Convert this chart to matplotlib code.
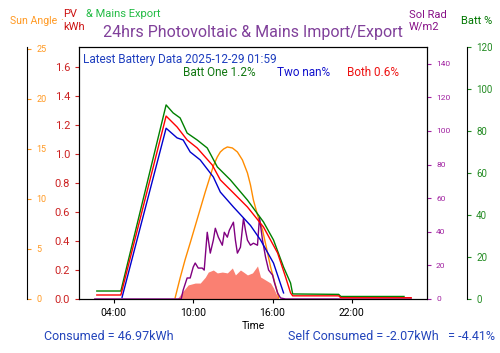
import datetime as dt
import numpy as np
import matplotlib
matplotlib.use("Agg")
import matplotlib.pyplot as plt
import matplotlib.dates as mdates

plt.rcParams['font.family'] = ['Roboto', 'DejaVu Sans']

# hours from midnight 2025-12-28
batt1_h = [2.71, 4.53, 7.95, 8.48, 9.01, 9.54, 10.30, 11.06, 11.82, 12.81, 14.10,
           15.31, 16.07, 16.83, 17.36, 17.52, 21.0, 21.16, 25.94]
batt1 = [3.8, 3.8, 92.4, 88.6, 86.2, 79.0, 75.7, 71.9, 62.9, 56.7, 47.1,
         36.7, 28.1, 15.2, 7.6, 2.4, 2.2, 1.2, 1.2]

both_h = [2.71, 4.53, 7.95, 8.78, 9.54, 10.30, 11.44, 12.05, 13.04, 14.10,
          15.31, 16.38, 16.98, 17.36, 17.52, 21.0, 21.16, 26.48]
both = [1.9, 1.9, 87.1, 81.9, 75.7, 71.9, 63.8, 56.7, 50.5, 43.8,
        34.3, 21.9, 10.5, 2.9, 1.5, 1.5, 0.6, 0.6]

batt2_h = [4.62, 7.95, 8.78, 9.24, 9.77, 10.53, 11.52, 12.05, 12.58, 13.04, 14.33,
           15.09, 16.07, 16.83]
batt2 = [0.8, 81.3, 76.7, 75.7, 70.0, 66.2, 58.1, 50.9, 47.1, 43.8, 35.0,
         28.1, 17.1, 2.9]

sun_h = [8.63, 8.80, 9.01, 9.38, 9.77, 10.15, 10.53, 10.91, 11.29, 11.52, 11.82,
         12.05, 12.30, 12.58, 12.96, 13.34, 13.72, 14.10, 14.33, 14.55, 14.86,
         15.24, 15.54, 15.85, 16.15, 16.38, 16.45]
sun = [0.1, 1.0, 2.1, 3.9, 5.6, 7.3, 9.0, 10.7, 12.3, 13.3, 14.2,
       14.7, 15.0, 15.2, 15.1, 14.7, 13.9, 12.6, 11.4, 9.9, 8.4,
       6.9, 5.1, 3.2, 1.7, 0.6, 0.1]

rad_h = [2.56, 9.09, 9.24, 9.54, 9.77, 10.0, 10.15, 10.38, 10.68, 10.83, 11.06,
         11.29, 11.52, 11.67, 11.90, 12.2, 12.35, 12.58, 12.73, 13.04, 13.19,
         13.34, 13.57, 13.80, 13.95, 14.10, 14.33, 14.55, 14.86, 15.01, 15.24,
         15.47, 15.70, 16.0, 16.15, 16.38, 16.6, 16.98, 26.48]
rad = [0, 0, 5.3, 12.5, 12.5, 19.0, 21.4, 18.4, 18.4, 17.2, 39.7,
       27.3, 35.0, 42.1, 36.8, 32.0, 39.7, 36.8, 40.9, 45.7, 35.0,
       27.3, 30.8, 48.0, 40.9, 35.0, 32.0, 33.2, 32.0, 48.6, 35.0,
       24.9, 17.2, 14.2, 9.5, 3.6, 0.6, 0, 0]

pv_h = [8.78, 9.24, 9.62, 10.15, 10.53, 10.91, 11.14, 11.52, 11.82, 12.2, 12.58,
        12.96, 13.19, 13.57, 13.80, 14.10, 14.48, 14.86, 15.09, 15.47, 15.85,
        16.07, 16.45]
pv = [0, 0.055, 0.097, 0.11, 0.11, 0.15, 0.186, 0.2, 0.18, 0.186, 0.18,
      0.214, 0.166, 0.2, 0.186, 0.166, 0.18, 0.228, 0.152, 0.131, 0.11,
      0.076, 0]

day0 = dt.datetime(2025, 12, 28)


def to_time(hours):
    return [day0 + dt.timedelta(hours=h) for h in hours]


fig = plt.figure(figsize=(5, 3.53), dpi=100)
ax = fig.add_axes([0.158, 0.153, 0.696, 0.714])

ax.fill_between(to_time(pv_h), pv, color='salmon', lw=0)
ax.plot(to_time(rad_h), [0] * len(rad_h), lw=0)
ax.set_ylim(0, 1.74)
ax.tick_params(axis='y', colors='#cc2222', labelsize=8, length=3)
ax.tick_params(axis='x', labelsize=7.5, length=3)
ax.xaxis.set_major_locator(mdates.HourLocator(byhour=[4, 10, 16, 22]))
ax.xaxis.set_major_formatter(mdates.DateFormatter('%H:%M'))
ax.set_xlabel('Time', fontsize=7.5, labelpad=2)

ax_sun = ax.twinx()
ax_sun.spines['right'].set_position(('axes', -0.149))
for s in ['top', 'left', 'bottom']:
    ax_sun.spines[s].set_visible(False)
ax_sun.plot(to_time(sun_h), sun, color='darkorange', lw=1)
ax_sun.set_ylim(0, 25.2)
ax_sun.tick_params(axis='y', colors='#ff9922', labelsize=6.5, length=3)

ax_rad = ax.twinx()
ax_rad.plot(to_time(rad_h), rad, color='purple', lw=1)
ax_rad.set_ylim(0, 150)
ax_rad.set_yticks(range(0, 141, 20))
ax_rad.tick_params(axis='y', colors='#a020a0', labelsize=6, length=3)

ax_batt = ax.twinx()
ax_batt.spines['right'].set_position(('axes', 1.115))
for s in ['top', 'left', 'bottom']:
    ax_batt.spines[s].set_visible(False)
ax_batt.plot(to_time(batt1_h), batt1, color='green', lw=1)
ax_batt.plot(to_time(both_h), both, color='red', lw=1)
ax_batt.plot(to_time(batt2_h), batt2, color='mediumblue', lw=1)
ax_batt.set_ylim(0, 120)
ax_batt.tick_params(axis='y', colors='#228b22', labelsize=7, length=3)

for a in [ax, ax_sun, ax_rad, ax_batt]:
    a.spines['right'].set_color('black')

# header texts
fig.text(253 / 500, 1 - 33 / 353, '24hrs Photovoltaic & Mains Import/Export',
         ha='center', va='center', color='#80409a', fontsize=11.5)
fig.text(10 / 500, 1 - 21 / 353, 'Sun Angle', ha='left', va='center',
         color='#ff9922', fontsize=7.6)
fig.text(60.5 / 500, 1 - 17 / 353, '.', ha='left', va='center',
         color='#ff9922', fontsize=8)
fig.text(63 / 500, 1 - 20.5 / 353, 'PV\nkWh', ha='left', va='center',
         color='#cc1111', fontsize=8, linespacing=1.35)
fig.text(86 / 500, 1 - 14 / 353, '& Mains Export', ha='left', va='center',
         color='#22bb44', fontsize=8)
fig.text(409 / 500, 1 - 21 / 353, 'Sol Rad\nW/m2', ha='left', va='center',
         color='#881188', fontsize=8, linespacing=1.25)
fig.text(461 / 500, 1 - 21 / 353, 'Batt %', ha='left', va='center',
         color='#007700', fontsize=8)

# battery info inside plot
fig.text(83 / 500, 1 - 59 / 353, 'Latest Battery Data 2025-12-29 01:59',
         ha='left', va='center', color='#1f3fbf', fontsize=8.5)
fig.text(183 / 500, 1 - 72 / 353, 'Batt One 1.2%', ha='left', va='center',
         color='#117711', fontsize=8.5)
fig.text(277 / 500, 1 - 72 / 353, 'Two nan%', ha='left', va='center',
         color='#1111cc', fontsize=8.5)
fig.text(347 / 500, 1 - 72 / 353, 'Both 0.6%', ha='left', va='center',
         color='#ee1111', fontsize=8.5)

fig.text(44 / 500, 1 - 336 / 353, 'Consumed = 46.97kWh', ha='left', va='center',
         color='#2244bb', fontsize=9)
fig.text(288 / 500, 1 - 336 / 353, 'Self Consumed = -2.07kWh   = -4.41%',
         ha='left', va='center', color='#2244bb', fontsize=9)

fig.savefig('out.png', dpi=100)
